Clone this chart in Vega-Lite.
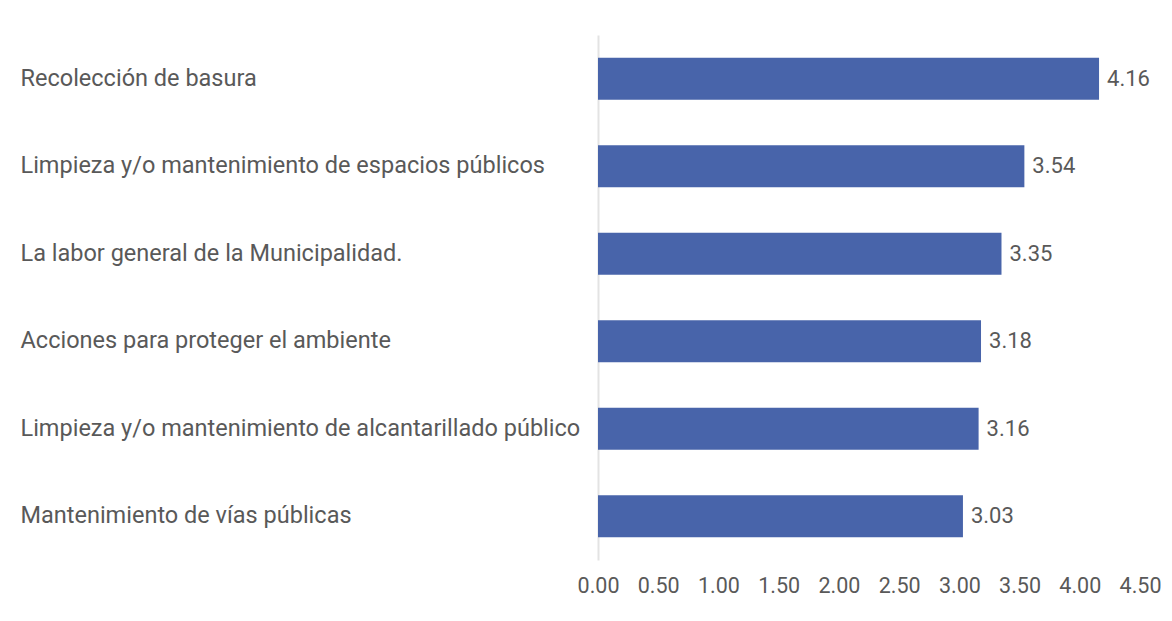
{
  "$schema": "https://vega.github.io/schema/vega-lite/v6.json",
  "autosize": {"type": "none"},
  "padding": {"left": 598, "top": 35, "right": 32, "bottom": 61},
  "width": 542,
  "height": 525,
  "background": "white",
  "config": {
    "view": {"stroke": null},
    "font": "Roboto",
    "text": {"font": "Roboto"}
  },
  "data": {
    "values": [
      {"item": "Recolección de basura", "value": 4.16},
      {"item": "Limpieza y/o mantenimiento de espacios públicos", "value": 3.54},
      {"item": "\u00a0La labor general de la Municipalidad.", "value": 3.35},
      {"item": "Acciones para proteger el ambiente", "value": 3.18},
      {"item": "Limpieza y/o mantenimiento de alcantarillado público", "value": 3.16},
      {"item": "Mantenimiento de vías públicas", "value": 3.03}
    ]
  },
  "encoding": {
    "y": {
      "field": "item",
      "type": "nominal",
      "sort": null,
      "title": null,
      "scale": {"paddingInner": 0.52, "paddingOuter": 0.26},
      "axis": {
        "domainColor": "#e3e3e3",
        "domainWidth": 2,
        "ticks": false,
        "labelAlign": "left",
        "labelPadding": 578,
        "labelFont": "Roboto",
        "labelFontSize": 23.5,
        "labelColor": "#595959",
        "labelLimit": 0
      }
    },
    "x": {
      "field": "value",
      "type": "quantitative",
      "title": null,
      "scale": {"domain": [0, 4.5], "nice": false},
      "axis": {
        "values": [0, 0.5, 1, 1.5, 2, 2.5, 3, 3.5, 4, 4.5],
        "format": ".2f",
        "domain": false,
        "ticks": false,
        "grid": false,
        "labelPadding": 15,
        "labelFont": "Roboto",
        "labelFontSize": 21.5,
        "labelColor": "#595959",
        "labelFlush": false
      }
    }
  },
  "layer": [
    {"mark": {"type": "bar", "color": "#4864aa"}},
    {
      "mark": {"type": "text", "align": "left", "dx": 8, "fontSize": 22, "color": "#595959", "font": "Roboto"},
      "encoding": {"text": {"field": "value", "type": "quantitative", "format": ".2f"}}
    }
  ]
}
